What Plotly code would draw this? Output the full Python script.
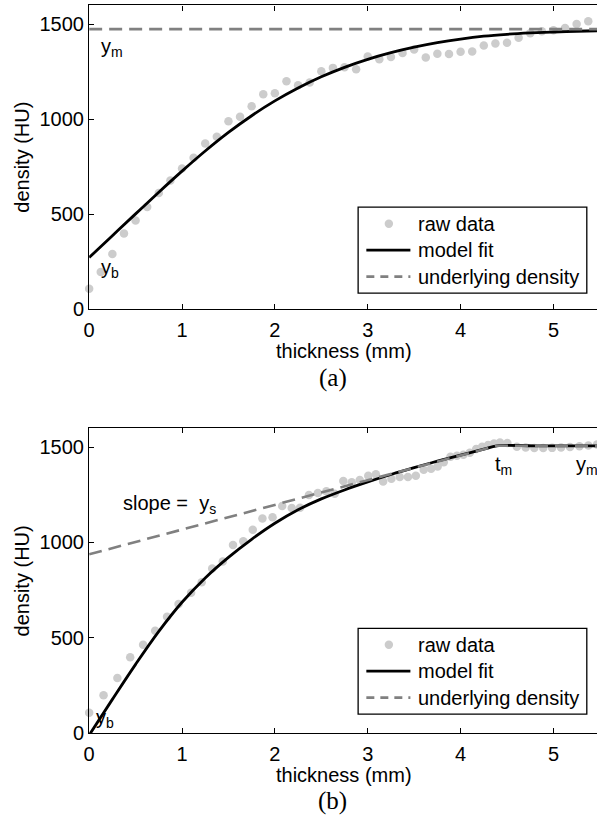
import plotly.graph_objects as go

# ---------------- data ----------------
# (a) raw samples every 0.125 mm
raw_a_t = [i * 0.125 for i in range(44)]
raw_a_v = [107, 196, 290, 399, 467, 538, 612, 678, 741, 798, 873, 908, 990, 1014,
           1069, 1132, 1137, 1201, 1180, 1194, 1253, 1271, 1274, 1264, 1331, 1316,
           1328, 1350, 1368, 1326, 1345, 1344, 1356, 1357, 1389, 1399, 1403, 1430,
           1453, 1464, 1469, 1481, 1502, 1517]

fit_a_t = [0, 0.25, 0.5, 0.75, 1.0, 1.25, 1.5, 1.75, 2.0, 2.25, 2.5, 2.75, 3.0,
           3.25, 3.5, 3.75, 4.0, 4.25, 4.5, 4.75, 5.0, 5.25, 5.5]
fit_a_v = [272, 387, 502, 616, 727, 833, 931, 1019, 1097, 1165, 1224, 1274, 1316,
           1351, 1380, 1404, 1423, 1438, 1448, 1455, 1460, 1464, 1467]

under_a_t = [0, 5.5]
under_a_v = [1475, 1475]

# (b) raw samples
raw_b_t = [0.0, 0.155, 0.304, 0.442, 0.581, 0.711, 0.839, 0.963, 1.098, 1.212,
           1.325, 1.439, 1.549, 1.660, 1.762, 1.866, 1.975, 2.079, 2.182, 2.271,
           2.367, 2.463, 2.555, 2.644, 2.737, 2.828, 2.914, 3.006, 3.088, 3.166,
           3.255, 3.345, 3.433, 3.518, 3.603, 3.683, 3.753, 3.819, 3.891, 3.961,
           4.030, 4.099, 4.168, 4.232, 4.296, 4.360, 4.424, 4.504, 4.606, 4.701,
           4.794, 4.890, 4.986, 5.082, 5.178, 5.280, 5.376, 5.469]
raw_b_v = [106, 198, 288, 397, 463, 537, 610, 677, 736, 791,
           864, 900, 987, 1007, 1067, 1126, 1133, 1192, 1181, 1183,
           1249, 1260, 1269, 1256, 1323, 1316, 1328, 1350, 1358, 1321,
           1335, 1344, 1344, 1350, 1382, 1387, 1399, 1422, 1451, 1456,
           1461, 1471, 1491, 1503, 1512, 1520, 1525, 1523, 1503, 1499,
           1496, 1496, 1497, 1499, 1501, 1505, 1510, 1515]

fit_b_t = [0, 0.25, 0.5, 0.75, 1.0, 1.25, 1.5, 1.75, 2.0, 2.25, 2.5, 2.75, 3.0,
           3.25, 3.5, 3.75, 4.0, 4.25, 4.39, 4.8, 5.5]
fit_b_v = [-12, 176, 360, 533, 686, 814, 922, 1017, 1101, 1172, 1229, 1276, 1318,
           1357, 1393, 1427, 1459, 1490, 1508, 1508, 1508]

under_b_t = [0, 4.39, 5.5]
under_b_v = [938, 1508, 1508]

x_ticks = [0, 1, 2, 3, 4, 5]
y_ticks = [0, 500, 1000, 1500]

# ---------------- styling ----------------
W, H = 597, 832
SANS = "Liberation Sans, Arial, sans-serif"
SERIF = "Liberation Serif, Times New Roman, serif"
DOT = "#cccccc"
DASH_GRAY = "#808080"


def px(x):
    return x / W


def py(y):
    return 1 - y / H


fig = go.Figure()

panels = [
    ("x", "y", raw_a_t, raw_a_v, fit_a_t, fit_a_v, under_a_t, under_a_v),
    ("x2", "y2", raw_b_t, raw_b_v, fit_b_t, fit_b_v, under_b_t, under_b_v),
]
for xa, ya, rt, rv, ft, fv, ut, uv in panels:
    fig.add_trace(go.Scatter(x=rt, y=rv, mode="markers", xaxis=xa, yaxis=ya,
                             marker=dict(size=8.5, color=DOT), cliponaxis=False,
                             showlegend=False, name="raw data"))
    fig.add_trace(go.Scatter(x=ft, y=fv, mode="lines", xaxis=xa, yaxis=ya,
                             line=dict(color="black", width=2.8, shape="spline",
                                       smoothing=1.0),
                             showlegend=False, name="model fit"))
    fig.add_trace(go.Scatter(x=ut, y=uv, mode="lines", xaxis=xa, yaxis=ya,
                             line=dict(color=DASH_GRAY, width=2.6, dash="13px,7px"),
                             showlegend=False, name="underlying density"))

axis_common = dict(showgrid=False, zeroline=False, showline=True, linecolor="black",
                   linewidth=1.3, ticks="inside", ticklen=5, tickwidth=1,
                   tickcolor="black", tickfont=dict(family=SANS, size=20, color="black"))

x_end = (W - 84) / 93.8
fig.update_layout(
    width=W, height=H, margin=dict(l=0, r=0, t=0, b=0),
    paper_bgcolor="white", plot_bgcolor="white", showlegend=False,
    xaxis=dict(domain=[px(84), 1], range=[0, x_end], tickvals=x_ticks,
               mirror="ticks", anchor="y", ticklabelstandoff=3, **axis_common),
    yaxis=dict(domain=[py(313.3), py(5.5)], range=[0, 1600], tickvals=y_ticks,
               anchor="x", **axis_common),
    xaxis2=dict(domain=[px(84), 1], range=[0, x_end], tickvals=x_ticks,
                mirror="ticks", anchor="y2", ticklabelstandoff=3, **axis_common),
    yaxis2=dict(domain=[py(742.7), py(434)], range=[0, 1600], tickvals=y_ticks,
                anchor="x2", **axis_common),
)

ann = []
shapes = []


def text(x, y, s, size=20, family=SANS, xanchor="left", yanchor="middle", angle=0):
    ann.append(dict(x=px(x), y=py(y), xref="paper", yref="paper", text=s,
                    showarrow=False, xanchor=xanchor, yanchor=yanchor,
                    textangle=angle, font=dict(family=family, size=size, color="black")))


for dy in (0, 429.4):
    # axis titles
    text(341, 356 + dy, "thickness (mm)", xanchor="center")
    text(16, 159 + dy, "density (HU)", xanchor="center", angle=-90)
    # legend box
    top = 210 + dy if dy == 0 else 636.7
    shapes.append(dict(type="rect", xref="paper", yref="paper",
                       x0=px(355.7), x1=px(586.7), y0=py(top), y1=py(top + 87),
                       line=dict(color="black", width=1.3), fillcolor="white"))
    r1, r2, r3 = top + 16.7, top + 43.5, top + 70.3
    shapes.append(dict(type="circle", xref="paper", yref="paper",
                       x0=px(382.5), x1=px(391), y0=py(r1 - 4.25), y1=py(r1 + 4.25),
                       line=dict(width=0), fillcolor=DOT))
    shapes.append(dict(type="line", xref="paper", yref="paper",
                       x0=px(364), x1=px(408.5), y0=py(r2), y1=py(r2),
                       line=dict(color="black", width=2.8)))
    shapes.append(dict(type="line", xref="paper", yref="paper",
                       x0=px(364), x1=px(408.5), y0=py(r3), y1=py(r3),
                       line=dict(color=DASH_GRAY, width=2.6, dash="8px,6px")))
    text(414, r1, "raw data")
    text(414, r2, "model fit")
    text(414, r3, "underlying density")

text(330, 383, "(a)", size=25, family=SERIF, xanchor="center")
text(330, 812, "(b)", size=25, family=SERIF, xanchor="center")

# in-plot parameter labels
text(94, 48, "y<sub>m</sub>")
text(94, 272, "y<sub>b</sub>")
text(116, 511, "slope =  y<sub>s</sub>")
text(492, 472, "t<sub>m</sub>")
text(574, 472, "y<sub>m</sub>")
text(89, 728, "y<sub>b</sub>")

fig.update_layout(annotations=ann, shapes=shapes)
fig.write_html("out.html")
